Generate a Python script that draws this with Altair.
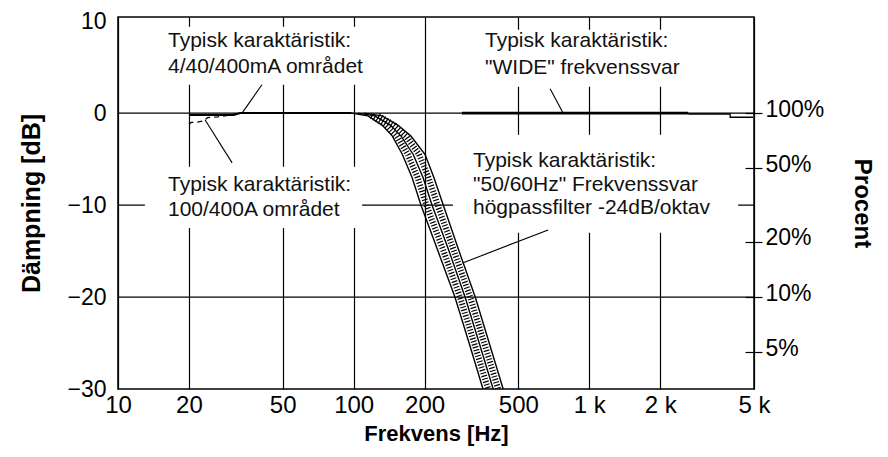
import math
import altair as alt
import pandas as pd

FONT = "Liberation Sans, Arial, Helvetica, sans-serif"

# ---------------- axes ----------------
x_ticks = [10, 20, 50, 100, 200, 500, 1000, 2000, 5000]
y_ticks = [10, 0, -10, -20, -30]
y_grid = [0, -10, -20]
pct_ticks = [100, 50, 20, 10, 5]
pct_db = [20 * math.log10(p / 100) for p in pct_ticks]

X_DOMAIN = [10, 5000]
Y_DOMAIN = [-30, 10.45]

# ---------------- high-pass band (50/60 Hz) ----------------
band_db = [0, -0.3, -1.3, -2.5, -4.5, -7, -10, -15, -20, -25, -30]
band_left = [98, 115, 132, 146, 161, 177, 193, 228, 269, 309, 354]
band_mid = [104, 123, 143, 159, 179, 197, 215, 254, 297, 341, 391]
band_right = [111, 132, 154, 175, 201, 219, 240, 280, 328, 376, 431]

# ---------------- other responses ----------------
a_f = [20, 31, 33, 98]            # 4/40/400mA
a_db = [-0.2, -0.2, 0, 0]
b_f = [20, 20.5, 21.5, 23, 24, 26.5, 30, 33]   # 100/400A (dashed)
b_db = [-1.2, -1.0, -1.0, -0.85, -0.5, -0.4, -0.2, 0]
w_thick_f = [288, 2630]           # WIDE
w_thick_db = [0, 0]
w_thin_f = [2630, 3960, 3961, 4950]
w_thin_db = [-0.1, -0.1, -0.45, -0.45]

# ---------------- annotations ----------------
box_x1 = [15.8, 13.0, 344, 264]
box_x2 = [127, 108.6, 2429, 4281]
box_y1 = [3.08, -12.48, 2.86, -13.02]
box_y2 = [9.39, -5.84, 9.06, -2.36]

txt = ["Typisk karaktäristik:", "4/40/400mA området",
       "Typisk karaktäristik:", "100/400A området",
       "Typisk karaktäristik:", "\"WIDE\" frekvenssvar",
       "Typisk karaktäristik:", "\"50/60Hz\" Frekvenssvar", "högpassfilter -24dB/oktav"]
txt_f = [16.3, 16.3, 16.3, 16.3, 361, 361, 321, 321, 321]
txt_db = [7.87, 5.04, -7.81, -10.52, 7.87, 4.93, -5.24, -7.80, -10.36]

lead_f1 = [40.8, 23.4, 682, 669]
lead_db1 = [3.08, -0.73, 2.64, -12.7]
lead_f2 = [33.6, 30.5, 774, 290]
lead_db2 = [0, -5.41, 0, -16.3]

# ---------------- tables ----------------
xs = alt.Scale(type="log", domain=X_DOMAIN, nice=False)
ys = alt.Scale(domain=Y_DOMAIN, nice=False, zero=False)

edges = []
for name, fl in (("left", band_left), ("mid", band_mid), ("right", band_right)):
    for f, d in zip(fl, band_db):
        edges.append({"edge": name, "f": f, "db": d})
edges = pd.DataFrame(edges)

hatch = []
for name, f1, f2 in (("s1", band_left, band_mid), ("s2", band_mid, band_right)):
    for a, b, d in zip(f1, f2, band_db):
        if d <= -0.3:
            hatch.append({"strip": name, "f": math.sqrt(a * b), "db": d})
hatch = pd.DataFrame(hatch)

boxes = pd.DataFrame({"x1": box_x1, "x2": box_x2, "y1": box_y1, "y2": box_y2})
texts = pd.DataFrame({"t": txt, "f": txt_f, "db": txt_db})
leads = pd.DataFrame({"f1": lead_f1, "d1": lead_db1, "f2": lead_f2, "d2": lead_db2})

x_axis = alt.Axis(values=x_ticks,
                  labelExpr="datum.value >= 1000 ? (datum.value / 1000) + ' k' : '' + datum.value",
                  title="Frekvens [Hz]", grid=True, gridColor="black", gridWidth=1.2, gridOpacity=1,
                  ticks=False, domain=False, labelFont=FONT, labelFontSize=24, labelColor="black",
                  labelPadding=4, labelFlush=False, labelOverlap=False,
                  titleFont=FONT, titleFontSize=22, titleFontWeight="bold", titleColor="black",
                  titlePadding=6)
y_axis = alt.Axis(values=y_ticks, format="d", grid=False, ticks=False, domain=False,
                  labelFont=FONT, labelFontSize=23, labelColor="black", labelPadding=12,
                  title="Dämpning [dB]", titleFont=FONT, titleFontSize=25, titleFontWeight="bold",
                  titleColor="black", titlePadding=22)
r_axis = alt.Axis(orient="right", values=pct_db,
                  labelExpr="format(pow(10, datum.value / 20) * 100, '.0f') + '%'",
                  offset=-9, tickSize=17, tickColor="black", tickWidth=1.2, domain=False, grid=False,
                  labelFont=FONT, labelFontSize=23, labelColor="black", labelPadding=3, labelOffset=-4,
                  title="Procent", titleAngle=90, titleFont=FONT, titleFontSize=24,
                  titleFontWeight="bold", titleColor="black", titlePadding=26)

X = lambda field: alt.X(field, scale=xs, axis=x_axis)

hgrid = alt.Chart(pd.DataFrame({"db": y_grid})).mark_rule(
    color="black", strokeWidth=1.2).encode(
    y=alt.Y("db:Q", scale=ys, axis=y_axis))

rects = alt.Chart(boxes).mark_rect(fill="white", stroke=None).encode(
    x=X("x1:Q"), x2="x2:Q",
    y=alt.Y("y1:Q", scale=ys, axis=None), y2="y2:Q")

labels = alt.Chart(texts).mark_text(align="left", baseline="middle", font=FONT, fontSize=21,
                                     color="#111").encode(
    x=X("f:Q"), y=alt.Y("db:Q", scale=ys, axis=None), text="t:N")

leaders = alt.Chart(leads).mark_rule(color="black", strokeWidth=1.1).encode(
    x=X("f1:Q"), x2="f2:Q",
    y=alt.Y("d1:Q", scale=ys, axis=None), y2="d2:Q")

def line_chart(f, d, **kw):
    return alt.Chart(pd.DataFrame({"f": f, "db": d, "i": range(len(f))})).mark_line(
        color="black", **kw).encode(
        x=X("f:Q"), y=alt.Y("db:Q", scale=ys, axis=None), order="i:Q")

curve_a = line_chart(a_f, a_db, strokeWidth=2)
curve_b = line_chart(b_f, b_db, strokeWidth=1.3, strokeDash=[5, 4])
wide_thick = line_chart(w_thick_f, w_thick_db, strokeWidth=2.8)
wide_thin = line_chart(w_thin_f, w_thin_db, strokeWidth=1.3)

hatch_lines = alt.Chart(hatch).mark_line(color="black", strokeWidth=6, strokeDash=[1.2, 1.8],
                                          strokeCap="butt").encode(
    x=X("f:Q"), y=alt.Y("db:Q", scale=ys, axis=None), detail="strip:N")

edge_lines = alt.Chart(edges).mark_line(color="black", strokeWidth=1.4).encode(
    x=X("f:Q"), y=alt.Y("db:Q", scale=ys, axis=None), detail="edge:N")

right = alt.Chart(pd.DataFrame({"db": [0]})).mark_point(opacity=0).encode(
    y=alt.Y("db:Q", scale=ys, axis=r_axis))

chart = alt.layer(hgrid, rects, labels, leaders, curve_a, curve_b, wide_thick, wide_thin,
                  hatch_lines, edge_lines, right).resolve_axis(y="independent").properties(
    width=636, height=372,
    padding={"left": 110, "top": 9, "right": 126, "bottom": 60},
    autosize=alt.AutoSizeParams(type="none"),
    background="white",
).configure_view(stroke="black", strokeWidth=1.5)

chart.save("out.html", embed_options={"renderer": "svg", "actions": False})
